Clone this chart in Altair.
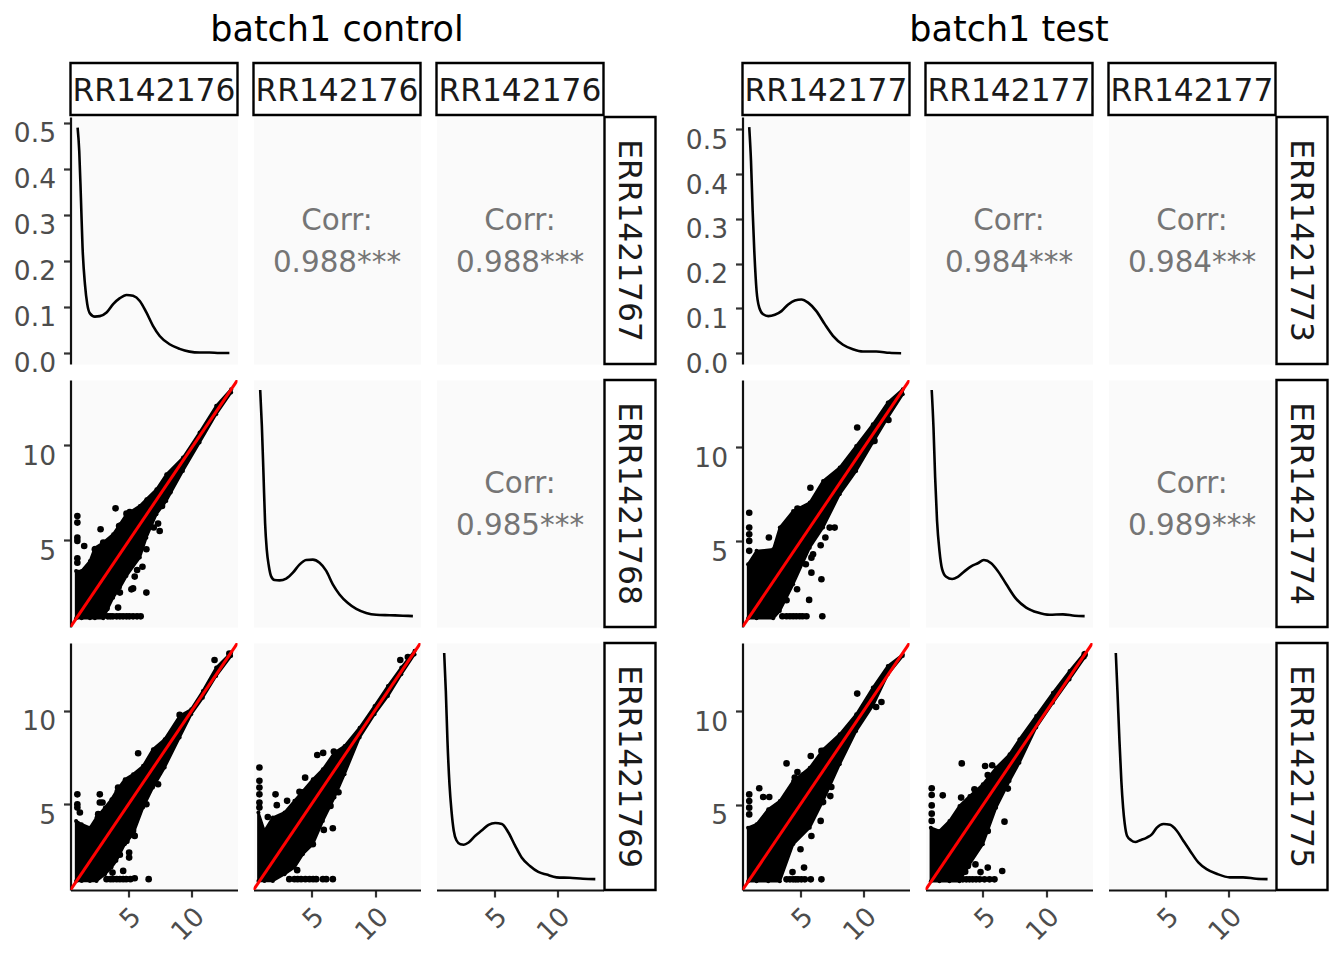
import altair as alt
import pandas as pd

FONT = "DejaVu Sans"
PW, PH = 167, 247
COL_W = [PW, 15.6, PW, 15.6, PW, 1, 51, 87.0, PW, 15.6, PW, 15.6, PW, 1, 51]
ROW_H = [53.5, 52, 2, PH, 16, PH, 16, PH]

# ---- axis ranges
g1_xdom = [[0.46, 13.62], [0.52, 13.49], [0.42, 13.68]]
g1_ydom = [[-0.0239, 0.5123], [0.44, 13.43], [0.42, 13.61]]
g2_xdom = [[0.46, 13.62], [0.48, 13.65], [0.45, 13.71]]
g2_ydom = [[-0.024, 0.5275], [0.44, 13.58], [0.43, 13.66]]
other_dens_dom = [-0.024, 0.522]

# ---- density curves
d1_x = [1.02,1.15,1.28,1.41,1.6,1.78,1.99,2.38,2.77,3.3,3.82,4.35,4.87,5.39,5.92,6.44,6.96,7.49,8.27,9.06,9.84,10.63,11.41,12.2,12.98]
d1_y = [.489,.438,.337,.229,.149,.106,.086,.079,.080,.088,.106,.119,.126,.124,.113,.088,.059,.037,.019,.009,.003,.001,.001,0,0]
d2_x = [1.04,1.17,1.30,1.42,1.55,1.71,1.89,2.15,2.54,3.06,3.58,4.09,4.61,5.13,5.65,6.17,6.68,7.2,7.85,8.5,9.27,10.05,11.09,12.12,12.9]
d2_y = [.5,.42,.31,.206,.147,.111,.088,.08,.079,.083,.096,.114,.124,.125,.118,.1,.07,.048,.029,.016,.007,.003,.002,.001,0]
d3_x = [1.03,1.16,1.29,1.45,1.61,1.79,2.0,2.32,2.58,2.97,3.5,4.03,4.55,5.08,5.61,6.13,6.66,7.18,7.84,8.5,9.16,9.95,11.0,12.05,13.03]
d3_y = [.5,.416,.306,.21,.151,.107,.086,.077,.076,.081,.096,.108,.12,.124,.122,.103,.074,.048,.029,.016,.01,.004,.003,.001,0]
d4_x = [.99,1.13,1.26,1.39,1.57,1.78,2.09,2.49,3.01,3.53,4.06,4.58,5.1,5.63,6.28,6.94,7.59,8.38,9.16,9.95,11.0,12.04,12.96]
d4_y = [.505,.429,.318,.228,.139,.102,.087,.083,.086,.094,.109,.118,.12,.113,.094,.065,.039,.019,.009,.004,.004,.001,0]
d5_x = [.97,1.11,1.24,1.39,1.58,1.79,2.11,2.58,3.03,3.55,4.08,4.61,5.08,5.66,6.18,6.84,7.63,8.42,9.34,10.26,11.32,12.24,13.03]
d5_y = [.5,.417,.307,.211,.145,.104,.087,.082,.087,.099,.11,.117,.124,.117,.1,.071,.038,.019,.008,.003,.004,.001,0]
d6_x = [1.03,1.16,1.32,1.47,1.61,1.74,1.92,2.24,2.58,2.97,3.5,3.89,4.29,4.82,5.34,5.87,6.39,6.92,7.58,8.24,9.03,10.08,11.13,12.18,13.08]
d6_y = [.5,.416,.306,.217,.158,.122,.096,.086,.082,.086,.092,.099,.114,.122,.12,.107,.085,.063,.037,.022,.012,.004,.004,.001,0]

# ---- dense scatter clouds, as upper and lower edge of the black mass
s1_x = [.9,1.34,1.99,2.38,3.04,3.82,4.35,4.87,5.92,6.44,7.23,8.01,9.32,10.63,11.94,13.12]
s1_hi = [3.39,3.39,3.91,4.61,4.88,5.32,5.84,6.37,6.81,7.16,7.68,8.47,9.35,10.67,12.07,12.95]
s1_lo = [.9,.9,.9,.9,.9,1.98,2.5,3.12,4.09,5.14,6.37,7.07,8.65,10.14,11.63,12.77]
s1_ox = [1.0,1.0,1.0,1.0,1.0,1.0,1.54,2.83,4.01,4.29,4.87,5.13,2.38,3.04,6.44,7.36,7.49,7.02,6.13,5.71,5.52,6.44,4.35,5.26,5.39,4.21,3.30,5.99,5.39,4.87,4.35,3.8,7.67,8.27,3.4,3.6,4.1,4.6,5.1,5.7]
s1_oy = [6.28,5.93,5.14,4.96,4.05,3.82,4.70,5.58,6.68,5.75,6.40,6.49,4.53,4.88,4.53,5.88,5.49,5.67,3.61,3.44,3.09,2.25,2.25,2.42,2.47,1.46,1.42,1.0,1.0,1.0,1.0,1.0,6.81,7.56,1.0,1.0,1.0,1.0,1.0,1.0]

s2_x = [.9,1.34,1.99,2.51,3.17,3.69,4.08,4.74,5.39,6.18,6.96,7.88,9.06,9.97,10.89,11.94,13.12]
s2_hi = [4.11,3.93,3.75,4.29,4.82,5.27,5.71,6.33,6.60,7.05,7.94,8.47,9.72,10.07,11.05,12.3,13.1]
s2_lo = [.9,.9,.9,.9,1.26,1.62,1.98,2.86,3.40,4.82,5.89,6.96,8.56,9.80,10.69,11.85,12.92]
s2_ox = [1.0,1.0,1.0,1.2,2.77,2.77,2.98,1.6,2.64,5.79,4.21,7.36,6.18,6.44,5.39,5.52,4.87,5.08,5.08,4.61,3.77,4.35,6.62,5.52,5.18,4.61,3.82,3.3,11.81,12.98,9.06,3.6,4.1,4.35,4.85]
s2_oy = [5.53,5.0,4.82,4.56,5.53,5.09,5.09,3.58,4.47,7.72,5.89,6.07,5.0,5.0,3.58,3.31,3.04,2.42,2.15,1.44,1.35,2.30,1.0,1.05,1.0,1.0,1.0,1.0,12.7,13.04,9.77,1.0,1.0,1.0,1.0]

s3_x = [.9,1.37,2.02,2.93,3.70,4.35,5.13,5.91,6.81,7.59,8.76,9.92,10.96,12.0,13.03]
s3_hi = [4.56,3.58,4.29,4.56,5.18,5.71,6.33,6.87,7.76,8.11,9.09,10.25,11.32,12.3,13.19]
s3_lo = [.9,.9,.9,1.26,1.62,2.33,2.86,4.11,5.36,6.60,8.56,9.80,10.78,11.94,13.0]
s3_ox = [.98,.98,.98,.98,.98,.98,2.23,2.33,1.63,3.13,4.09,4.53,5.47,5.93,6.76,7.12,6.50,6.68,5.98,5.13,3.91,6.68,6.17,5.91,5.39,4.87,4.22,3.7,11.92,12.51,3.3,3.95,4.55,5.15]
s3_oy = [6.96,6.25,5.89,5.53,5.09,4.82,5.53,4.95,4.32,5.18,5.66,6.42,7.63,7.74,7.81,5.64,4.91,3.72,3.63,2.86,1.48,1.0,1.0,1.0,1.0,1.0,1.0,1.0,12.7,12.86,1.0,1.0,1.0,1.0]

s4_x = [.9,1.57,2.88,3.40,4.45,5.76,6.81,8.12,9.42,10.73,11.91,13.09]
s4_hi = [3.78,4.49,4.57,5.73,6.61,7.06,8.21,8.92,10.07,11.22,12.38,13.09]
s4_lo = [.9,.9,.9,1.29,2.71,4.66,5.73,7.5,8.74,10.25,11.58,12.82]
s4_ox = [.99,.99,.99,.99,.99,2.54,4.79,5.81,9.5,7.72,7.33,6.99,6.62,6.02,5.89,5.45,5.89,6.68,4.76,5.71,3.93,6.75,5.5,4.97,4.45,3.93,10.86,11.96,3.6,4.2,4.7,5.2]
s4_oy = [6.52,5.73,5.37,5.02,4.49,5.20,6.74,7.85,11.05,5.73,5.73,5.2,4.79,4.31,4.13,3.78,3.33,2.98,2.45,1.88,1.86,1.01,1.01,1.01,1.01,1.01,10.34,11.45,1.01,1.01,1.01,1.01]

s5_x = [.9,1.57,2.49,3.40,4.45,5.76,6.81,8.12,9.42,10.73,11.91,13.09]
s5_hi = [3.77,3.95,4.75,5.2,6.27,6.98,7.96,8.77,9.84,11.27,12.43,13.05]
s5_lo = [.9,.9,.9,.9,2.88,3.77,5.2,7.16,8.95,10.29,11.98,12.96]
s5_ox = [.99,.99,.99,.99,1.78,2.09,2.57,3.93,4.58,4.79,5.31,5.84,6.68,9.5,11.41,10.99,7.46,7.38,6.81,6.62,5.89,5.03,5.31,4.4,6.68,5.84,5.37,4.84,4.45,3.93,4.2,4.65,5.1]
s5_oy = [5.55,5.2,4.84,4.48,5.88,5.41,5.41,7.21,6.45,6.75,6.59,7.61,7.88,10.95,10.5,10.23,5.95,5.46,5.14,4.13,3.32,2.61,1.63,1.39,1.0,1.0,1.0,1.0,1.0,1.0,1.0,1.0,1.0]

s6_x = [.9,1.58,2.37,3.16,3.95,5.0,6.05,7.11,7.89,9.21,10.53,11.84,13.03]
s6_hi = [3.77,3.59,4.13,4.93,5.46,6.09,6.98,7.7,8.5,9.75,11.0,12.16,13.14]
s6_lo = [.9,.9,.9,.9,1.8,2.88,4.84,6.27,7.25,9.13,10.46,11.71,12.88]
s6_ox = [.97,.97,.97,.97,.97,1.84,3.34,5.18,5.74,5.39,4.34,3.29,6.97,6.71,5.39,4.61,3.82,4.42,5.39,4.82,6.53,3.61,5.92,5.53,5.13,4.47,3.95,3.42,13.03,3.7,4.2,4.75]
s6_oy = [5.88,5.52,4.96,4.52,4.13,5.5,7.21,7.07,7.11,6.59,5.82,5.38,5.86,4.09,3.59,2.88,1.71,1.8,1.63,1.39,1.45,1.41,1.0,1.0,1.0,1.0,1.0,1.0,13.05,1.0,1.0,1.0]

# ---- labels
tick_values = [5, 10]
density_ticks = [0.0, 0.1, 0.2, 0.3, 0.4, 0.5]
corr_label = "Corr:"
g1_samples = ["ERR1421767", "ERR1421768", "ERR1421769"]
g2_samples = ["ERR1421773", "ERR1421774", "ERR1421775"]
g1_corr = ["0.988***", "0.988***", "0.985***"]
g2_corr = ["0.984***", "0.984***", "0.989***"]
corr_pos_x = [0.5, 0.5]
corr_pos_y = [0.579, 0.409]

AX = dict(grid=False, title=None, domainColor="#111111", domainWidth=2.2, tickColor="#333333",
          tickWidth=2.2, tickSize=7, labelColor="#4D4D4D", labelFont=FONT, labelFontSize=26.5,
          labelOverlap=False, labelFlush=False, labelBound=False)
PANEL_VIEW = alt.ViewBackground(fill="#FAFAFA", stroke="transparent")


def x_enc(field, dom, show):
    ax = alt.Axis(values=tick_values, labelAngle=315, labelAlign="right", labelBaseline="top",
                  labelPadding=6, labelOffset=-1, format="d", **AX) if show else None
    return alt.X(field, type="quantitative", scale=alt.Scale(domain=dom, nice=False, zero=False), axis=ax)


def y_enc(field, dom, show, values=tick_values, fmt="d"):
    ax = alt.Axis(values=values, format=fmt, labelPadding=8, labelBaseline="middle", labelOffset=11, **AX) if show else None
    return alt.Y(field, type="quantitative", scale=alt.Scale(domain=dom, nice=False, zero=False), axis=ax)


def scatter(cx, hi, lo, ox, oy, xd, yd, show_y, show_x):
    band = alt.Chart(pd.DataFrame({"x": cx, "hi": hi, "lo": lo})).mark_area(
        color="black", stroke="black", strokeWidth=2.5, strokeJoin="round", clip=True
    ).encode(x=x_enc("x", xd, show_x), y=y_enc("hi", yd, show_y), y2="lo")
    edge = alt.Chart(pd.DataFrame({"x": cx + cx, "y": hi + lo})).mark_circle(
        color="black", size=16, opacity=1, clip=True
    ).encode(x=x_enc("x", xd, show_x), y=y_enc("y", yd, show_y))
    dots = alt.Chart(pd.DataFrame({"x": ox, "y": oy})).mark_circle(
        color="black", size=44, opacity=1, clip=True
    ).encode(x=x_enc("x", xd, show_x), y=y_enc("y", yd, show_y))
    diag = alt.Chart(pd.DataFrame({"x": xd, "y": yd})).mark_line(color="#FF0000", strokeWidth=3, clip=True).encode(
        x=x_enc("x", xd, show_x), y=y_enc("y", yd, show_y))
    return (band + edge + dots + diag).properties(width=PW, height=PH, view=PANEL_VIEW)


def density(dx, dy, xd, yd, show_y, show_x):
    y = y_enc("y", yd, show_y, density_ticks, ".1f")
    return alt.Chart(pd.DataFrame({"x": dx, "y": dy})).mark_line(
        color="black", strokeWidth=2.6, interpolate="monotone", clip=True
    ).encode(x=x_enc("x", xd, show_x), y=y).properties(width=PW, height=PH, view=PANEL_VIEW)


def corr(value):
    df = pd.DataFrame({"x": corr_pos_x, "y": corr_pos_y, "t": [corr_label, value]})
    sc = alt.Scale(domain=[0, 1])
    return alt.Chart(df).mark_text(font=FONT, fontSize=29.4, color="#757575", baseline="middle").encode(
        x=alt.X("x:Q", scale=sc, axis=None), y=alt.Y("y:Q", scale=sc, axis=None), text="t:N"
    ).properties(width=PW, height=PH, view=PANEL_VIEW)


def strip(label, w, h, angle=0):
    tx = w / 2 - 2 if angle else w / 2
    ty = h / 2 if angle else h / 2 + 2.5
    return alt.Chart(pd.DataFrame({"t": [label]})).mark_text(
        font=FONT, fontSize=31.3, color="#1a1a1a", baseline="middle", align="center", angle=angle, clip=True
    ).encode(x=alt.value(tx), y=alt.value(ty), text="t:N").properties(
        width=w, height=h, view=alt.ViewBackground(fill="white", stroke="black", strokeWidth=2.4))


def title_cell(label):
    return alt.Chart(pd.DataFrame({"t": [label]})).mark_text(
        font=FONT, fontSize=35, color="black", baseline="middle", align="center"
    ).encode(x=alt.value(PW / 2), y=alt.value(20.5), text="t:N").properties(
        width=PW, height=ROW_H[0], view=alt.ViewBackground(fill="transparent", stroke="transparent"))


def blank(w, h):
    return alt.Chart(pd.DataFrame({"a": [0]})).mark_point(opacity=0, size=1).encode(
        x=alt.value(0), y=alt.value(0)).properties(
        width=w, height=h, view=alt.ViewBackground(fill="transparent", stroke="transparent"))


def place(grid, c0, title, samples, corrs, xd, yd, dens, clouds):
    cols = [c0, c0 + 2, c0 + 4]
    side = c0 + 6
    rows = [3, 5, 7]
    grid[0][cols[1]] = title_cell(title)
    for c, s in zip(cols, samples):
        grid[1][c] = strip(s, PW, ROW_H[1])
    for r, s in zip(rows, samples):
        grid[r][side] = strip(s, COL_W[side], PH, 90)
    grid[3][cols[0]] = density(*dens[0], xd[0], yd[0], True, False)
    grid[3][cols[1]] = corr(corrs[0])
    grid[3][cols[2]] = corr(corrs[1])
    grid[5][cols[0]] = scatter(*clouds[0], xd[0], yd[1], True, False)
    grid[5][cols[1]] = density(*dens[1], xd[1], other_dens_dom, False, False)
    grid[5][cols[2]] = corr(corrs[2])
    grid[7][cols[0]] = scatter(*clouds[1], xd[0], yd[2], True, True)
    grid[7][cols[1]] = scatter(*clouds[2], xd[1], yd[2], False, True)
    grid[7][cols[2]] = density(*dens[2], xd[2], other_dens_dom, False, True)


grid = [[None] * len(COL_W) for _ in ROW_H]
place(grid, 0, "batch1 control", g1_samples, g1_corr, g1_xdom, g1_ydom,
      [(d1_x, d1_y), (d2_x, d2_y), (d3_x, d3_y)],
      [(s1_x, s1_hi, s1_lo, s1_ox, s1_oy), (s2_x, s2_hi, s2_lo, s2_ox, s2_oy), (s3_x, s3_hi, s3_lo, s3_ox, s3_oy)])
place(grid, 8, "batch1 test", g2_samples, g2_corr, g2_xdom, g2_ydom,
      [(d4_x, d4_y), (d5_x, d5_y), (d6_x, d6_y)],
      [(s4_x, s4_hi, s4_lo, s4_ox, s4_oy), (s5_x, s5_hi, s5_lo, s5_ox, s5_oy), (s6_x, s6_hi, s6_lo, s6_ox, s6_oy)])

cells = []
for r, row in enumerate(grid):
    for c, cell in enumerate(row):
        cells.append(cell if cell is not None else blank(COL_W[c], ROW_H[r]))

chart = alt.concat(*cells, columns=len(COL_W), spacing=0, bounds="flush", align="each").properties(
    padding={"left": 4.5, "top": 0, "right": 0, "bottom": 0}, background="white")
chart.save("out.html", embed_options={"renderer": "svg", "actions": False})
